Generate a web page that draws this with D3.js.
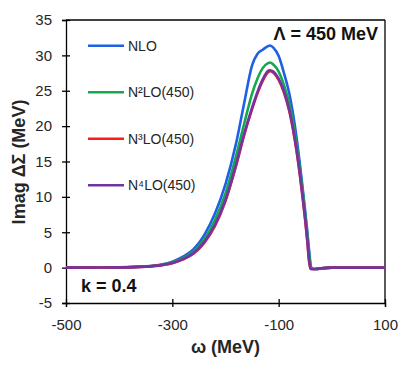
<!DOCTYPE html>
<html>
<head>
<meta charset="utf-8">
<script src="https://cdn.jsdelivr.net/npm/d3@7"></script>
<style>
  html, body { margin: 0; padding: 0; background: #fff; }
  svg { display: block; font-family: "Liberation Sans", Arial, sans-serif; }
</style>
</head>
<body>
<svg id="chart" width="420" height="368"></svg>
<script>
// ---- data ----
const omega = [-500,-450,-400,-350,-320,-300,-280,-260,-240,-220,-200,-180,-165,-150,-140,-130,-120,-116,-110,-100,-90,-80,-70,-60,-55,-50,-46,-43,-40,-38,-35,-30,-20,0,50,100];
const nlo  = [0,0.01,0.04,0.18,0.45,0.85,1.55,2.6,4.6,7.6,11.8,17.6,23.2,28.6,30.2,30.8,31.3,31.4,31.1,29.9,27.5,24.6,20.3,14.6,11.3,7.9,5.0,2.6,0.5,-0.1,-0.2,-0.2,-0.1,0,0,0];
const n2lo = [0,0.01,0.035,0.16,0.4,0.75,1.35,2.3,4.0,6.7,10.5,15.8,20.3,24.6,26.7,28.2,28.9,29.0,28.7,27.7,25.8,23.2,19.2,14.0,10.9,7.5,4.6,2.2,0.1,-0.15,-0.2,-0.2,-0.1,0,0,0];
const n3lo = [0,0.01,0.03,0.14,0.35,0.63,1.17,2.0,3.5,5.85,9.4,14.4,18.7,22.4,24.6,26.4,27.6,27.75,27.55,26.55,24.75,22.1,18.2,13.0,9.9,6.6,3.6,1.0,-0.15,-0.2,-0.2,-0.2,-0.1,0,0,0];
const n4lo = [0,0.01,0.03,0.14,0.35,0.65,1.2,2.05,3.6,6.0,9.6,14.6,18.9,22.6,24.8,26.6,27.8,27.9,27.7,26.7,24.9,22.3,18.4,13.2,10.1,6.8,3.8,1.2,-0.15,-0.2,-0.2,-0.2,-0.1,0,0,0];
const seriesNames = ["NLO", "N²LO(450)", "N³LO(450)", "N⁴LO(450)"];
const seriesColors = ["#1f5fe6", "#16a84e", "#ff1a1a", "#7334a3"];
const xTicks = [-500, -300, -100, 100];
const yTicks = [-5, 0, 5, 10, 15, 20, 25, 30, 35];

// ---- layout ----
const svg = d3.select("#chart");
const L = 66, R = 385, T = 20, B = 303;
const x = d3.scaleLinear().domain([-500, 100]).range([L, R]);
const y = d3.scaleLinear().domain([-5, 35]).range([B, T]);
const textColor = "#262626";

// box (top & right)
svg.append("line").attr("x1", L).attr("x2", R).attr("y1", T).attr("y2", T)
  .attr("stroke", "#000").attr("stroke-width", 1.3);
svg.append("line").attr("x1", R).attr("x2", R).attr("y1", T).attr("y2", B)
  .attr("stroke", "#000").attr("stroke-width", 1.3);

// y axis
const gy = svg.append("g").attr("transform", `translate(${L},0)`)
  .call(d3.axisLeft(y).tickValues(yTicks).tickFormat(d3.format("d")).tickSize(4).tickPadding(10));
gy.selectAll(".tick line").attr("x1", 4).attr("x2", -4);
// x axis
const gx = svg.append("g").attr("transform", `translate(0,${B})`)
  .call(d3.axisBottom(x).tickValues(xTicks).tickFormat(d3.format("d")).tickSize(4).tickPadding(12));
gx.selectAll(".tick line").attr("y1", -4).attr("y2", 4);

[gx, gy].forEach(g => {
  g.select(".domain").attr("stroke", "#000").attr("stroke-width", 1.3);
  g.selectAll(".tick line").attr("stroke", "#000").attr("stroke-width", 1.3);
  g.selectAll(".tick text").attr("font-size", 15).attr("fill", textColor)
    .attr("font-family", "'Liberation Sans', Arial, sans-serif");
});
gx.selectAll(".tick text").text(d => d < 0 ? "-" + Math.abs(d) : d);
gy.selectAll(".tick text").text(d => d < 0 ? "-" + Math.abs(d) : d);

// curves
const allSeries = [nlo, n2lo, n3lo, n4lo];
const line = d3.line().x(d => x(d[0])).y(d => y(d[1])).curve(d3.curveMonotoneX);
allSeries.forEach((vals, i) => {
  svg.append("path")
    .datum(omega.map((w, j) => [w, vals[j]]))
    .attr("fill", "none")
    .attr("stroke", seriesColors[i])
    .attr("stroke-width", 2.6)
    .attr("stroke-linejoin", "round")
    .attr("d", line);
});

// legend
const legY = [45.7, 92.3, 138.7, 185.3];
seriesNames.forEach((name, i) => {
  svg.append("line").attr("x1", 88).attr("x2", 124).attr("y1", legY[i]).attr("y2", legY[i])
    .attr("stroke", seriesColors[i]).attr("stroke-width", 2.6);
  svg.append("text").attr("x", 128).attr("y", legY[i] + 5).attr("font-size", 14)
    .attr("fill", textColor).text(name);
});

// annotations
svg.append("text").attr("x", 378).attr("y", 40).attr("text-anchor", "end")
  .attr("font-size", 18).attr("font-weight", "bold").attr("fill", "#111").text("Λ = 450 MeV");
svg.append("text").attr("x", 81).attr("y", 292)
  .attr("font-size", 18).attr("font-weight", "bold").attr("fill", "#111").text("k = 0.4");

// axis titles
svg.append("text").attr("x", (L + R) / 2).attr("y", 353).attr("text-anchor", "middle")
  .attr("font-size", 18).attr("font-weight", "bold").attr("fill", textColor).text("ω (MeV)");
svg.append("text").attr("transform", "translate(25,162) rotate(-90)").attr("text-anchor", "middle")
  .attr("font-size", 18).attr("font-weight", "bold").attr("fill", textColor).text("Imag ΔΣ (MeV)");
</script>
</body>
</html>
